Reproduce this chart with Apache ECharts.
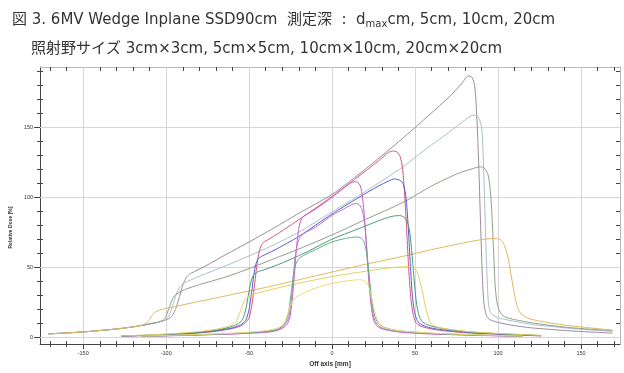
<!DOCTYPE html>
<html>
<head>
<meta charset="utf-8">
<script src="https://cdn.jsdelivr.net/npm/echarts@6/dist/echarts.min.js"></script>
<style>
  html, body { margin: 0; padding: 0; background: #fff; }
  #chart { width: 624px; height: 373px; }
</style>
</head>
<body>
<div id="chart"></div>
<script>
// wedge profiles, [off axis (mm), relative dose (%)]
// 20cm x 20cm field
var f20_dmax = [[-171, 2.3], [-150, 3.7], [-130, 5.8], [-120, 7.3], [-110, 9.4], [-102, 11.5], [-98, 13.5], [-96, 16], [-94, 21], [-92, 29], [-90, 37], [-88, 42.5], [-86, 45], [-83, 46.8], [-76, 51], [-64, 59], [-50, 68], [-35, 78], [-20, 88.5], [0, 102], [20, 120], [40, 139.5], [55, 155], [70, 171], [78, 181], [82, 186.5], [84, 186], [85.5, 182], [86.5, 172], [87.5, 150], [88.5, 118], [89.5, 80], [90.5, 45], [91.5, 24], [93, 15.5], [95, 12.5], [102, 9.9], [112, 7.8], [122, 6.4], [142, 4.6], [155, 3.7], [169, 2.8]];
var f20_d5 = [[-171, 2.3], [-150, 3.7], [-130, 5.8], [-120, 7.3], [-110, 9.4], [-102, 11.5], [-100, 12.8], [-98, 16], [-96, 23], [-94, 30.5], [-92, 35.5], [-90, 38], [-87, 39.8], [-80, 43.5], [-64, 51], [-50, 58], [-35, 66], [-20, 75], [0, 89.5], [20, 104], [42.8, 121.7], [55, 133], [70, 146], [80, 155], [85, 158.6], [87.5, 158], [89, 155], [90.3, 148], [91.3, 120], [92.3, 82], [93.3, 45], [94.3, 23], [95.5, 17.5], [97.2, 15.5], [101, 13.5], [106, 12.2], [114, 10.3], [122, 8.8], [132, 7.6], [142, 6.4], [155, 5.2], [169, 4.1]];
var f20_d10 = [[-171, 2.3], [-150, 3.7], [-130, 5.8], [-120, 7.3], [-110, 9.4], [-104, 11], [-101, 13], [-99, 18.5], [-97, 25], [-95, 29.5], [-92, 32], [-88, 34.3], [-80, 37.5], [-64, 43], [-50, 49], [-35, 56], [-20, 63], [0, 73], [20, 84], [42.8, 96.3], [60, 108], [75, 116.5], [85, 120.5], [89.3, 121.7], [92, 120.5], [94, 116], [95.3, 105], [96.3, 88], [97.3, 62], [98.2, 38], [99.2, 26], [100.5, 19.5], [102, 16.5], [104, 14.5], [110, 12.5], [122, 9.9], [132, 8.3], [142, 6.9], [155, 5.7], [169, 4.6]];
var f20_d20 = [[-171, 2.3], [-150, 3.7], [-130, 5.8], [-120, 7.3], [-114, 8.8], [-111, 11], [-109, 14.5], [-107, 17.5], [-104, 19.3], [-100, 20.5], [-90, 23], [-76, 26.5], [-64, 29.5], [-40, 35.5], [-20, 41], [0, 46.5], [20, 52], [40, 57], [60, 62.5], [80, 67.5], [92, 70], [99, 70.5], [102, 69], [104, 65], [106, 57], [107.5, 47], [109, 36.5], [110.5, 27], [112, 20.5], [114, 16.5], [118, 13.5], [125, 11.5], [132, 10], [142, 8.3], [152, 7], [169, 5]];

// 10cm x 10cm field
var f10_dmax = [[-127, 0.7], [-110, 1.2], [-95, 1.9], [-80, 3], [-70, 4.2], [-60, 6.2], [-55, 8], [-52, 10.5], [-50, 14], [-48.5, 22], [-47, 35], [-45.75, 47], [-44.5, 58], [-43, 64.5], [-41.5, 67.5], [-38, 70], [-30, 76], [-15, 88], [0, 100.5], [15, 114], [28, 126], [34, 132], [36.5, 133], [39, 132.3], [41, 129], [42.5, 120], [43.8, 100], [45, 75], [46.2, 48], [47.5, 27], [49, 15.5], [50.5, 10.5], [53, 8], [58, 6.3], [62.4, 5.3], [70, 4.2], [82, 3], [102, 1.9], [114, 1.4], [126, 0.8]];
var f10_d5 = [[-127, 0.7], [-110, 1.3], [-95, 2], [-80, 3.2], [-70, 4.5], [-60, 6.6], [-56, 8.3], [-53, 10.5], [-51.5, 13.5], [-50, 20], [-48.5, 32], [-47.2, 44], [-46, 52], [-44.5, 56], [-42, 58], [-35, 62], [-20, 72], [0, 88], [15, 99], [28, 108], [34, 111.5], [37.5, 113], [41, 112], [43, 109], [44.5, 100], [45.8, 80], [47, 55], [48.2, 32], [49.5, 19], [51, 12.5], [53, 9.5], [58, 7], [63, 5.8], [70, 4.7], [82, 3.4], [102, 2.1], [114, 1.6], [126, 1]];
var f10_d10 = [[-127, 0.8], [-110, 1.4], [-95, 2.2], [-80, 3.5], [-70, 5], [-62, 7], [-58, 8.7], [-55, 11], [-53.5, 14], [-52, 20], [-50.5, 30], [-49, 39], [-47.5, 44], [-45, 46.5], [-40, 48.5], [-30, 53], [-15, 61], [0, 70], [15, 77], [30, 84], [37, 86.5], [41, 86.8], [44, 85], [46, 80], [47.3, 70], [48.5, 54], [49.8, 36], [51, 23], [52.5, 15], [54, 11.5], [57, 9], [62, 7.2], [70, 5.5], [82, 3.8], [102, 2.3], [114, 1.7], [126, 1.1]];
var f10_d20 = [[-127, 0.9], [-110, 1.6], [-95, 2.6], [-80, 4], [-70, 5.6], [-63, 7.5], [-60, 9], [-58, 11], [-56.5, 14.5], [-55, 19.5], [-53.5, 24.5], [-52, 27.5], [-49, 30], [-45, 31.5], [-35, 34.5], [-20, 38.5], [0, 43.3], [20, 47], [35, 49.5], [44.7, 50.3], [48, 50], [50.5, 48], [52, 44], [53.5, 37], [54.6, 31.8], [56, 23], [57.6, 15.7], [59, 11], [60.6, 8.8], [63, 7.3], [70, 5.7], [82, 4], [102, 2.5], [114, 1.9], [126, 1.2]];

// 5cm x 5cm field
var f5_dmax = [[-115, 0.5], [-100, 0.9], [-80, 1.5], [-60, 2.2], [-45, 3], [-38, 3.6], [-33, 4.8], [-29, 7], [-27, 9.5], [-25.5, 14], [-24.2, 25], [-22.9, 42], [-21.6, 62], [-20.3, 76], [-19, 83], [-17, 86.5], [-12, 90], [-5, 95.5], [0, 100], [6, 105.5], [11, 110], [13.5, 111], [15.5, 110.5], [17, 108], [18.3, 100], [19.5, 85], [20.7, 65], [22, 42], [23.3, 25], [24.6, 14], [26, 9.5], [28, 7], [32, 5.3], [38, 4], [45, 3.1], [60, 2.2], [80, 1.5], [100, 0.9], [115, 0.6]];
var f5_d5 = [[-115, 0.6], [-100, 1], [-80, 1.6], [-60, 2.4], [-45, 3.3], [-38, 4], [-33, 5.2], [-30, 7], [-27.5, 10.5], [-26, 15], [-24.8, 25], [-23.6, 40], [-22.4, 56], [-21, 66], [-19.5, 71], [-17, 74], [-10, 78.5], [0, 87], [7, 91.5], [12, 94.8], [14.5, 95.4], [16.5, 94.5], [18, 91], [19.3, 84], [20.5, 70], [21.7, 50], [23, 32], [24.3, 19], [25.7, 12], [27.5, 8.5], [30, 6.5], [35, 5], [42, 3.8], [60, 2.4], [80, 1.6], [100, 1], [115, 0.6]];
var f5_d10 = [[-115, 0.6], [-100, 1.1], [-80, 1.7], [-60, 2.6], [-45, 3.6], [-38, 4.4], [-33, 5.7], [-30, 7.7], [-28.5, 10], [-27, 14], [-25.8, 21], [-24.6, 32], [-23.3, 44], [-22, 51.5], [-20.5, 55.5], [-17, 58.5], [-10, 62.5], [0, 68], [8, 70.5], [14, 71.5], [17, 71], [19, 68.5], [20.5, 62], [21.8, 50], [23, 36], [24.3, 23], [25.7, 15], [27.5, 10.5], [30, 7.7], [35, 5.7], [42, 4.3], [60, 2.7], [80, 1.8], [100, 1.1], [115, 0.7]];
var f5_d20 = [[-115, 0.7], [-100, 1.2], [-80, 1.9], [-60, 2.8], [-45, 4], [-38, 5], [-33, 6.5], [-30, 8.5], [-28.3, 11.5], [-26.8, 16.5], [-25.3, 22], [-23.8, 26], [-22, 28.3], [-18, 31], [-10, 35], [1, 38.7], [10, 40.3], [16, 41], [19, 40.5], [21, 38.7], [22.5, 34.5], [24, 27], [25.5, 19], [27, 13], [28.5, 9.5], [31, 7], [36, 5.3], [42, 4.3], [60, 2.9], [80, 1.9], [100, 1.2], [115, 0.7]];

var xLabels = [-150, -100, -50, 0, 50, 100, 150];
var xMinor = [-170, -160, -150, -140, -130, -120, -110, -100, -90, -80, -70, -60, -50, -40, -30, -20, -10, 0, 10, 20, 30, 40, 50, 60, 70, 80, 90, 100, 110, 120, 130, 140, 150, 160, 170];
var yLabels = [0, 50, 100, 150];
var yMinor = [0, 10, 20, 30, 40, 50, 60, 70, 80, 90, 100, 110, 120, 130, 140, 150, 160, 170, 180, 190];

var X_MIN = -176, X_MAX = 173.5, Y_MIN = -5, Y_MAX = 193;

var curves = [
  { name: '20cm dmax', data: f20_dmax, color: '#a08a9a' },
  { name: '20cm 5cm', data: f20_d5, color: '#a6c2cc' },
  { name: '20cm 10cm', data: f20_d10, color: '#8f9f88' },
  { name: '20cm 20cm', data: f20_d20, color: '#e0b860' },
  { name: '10cm dmax', data: f10_dmax, color: '#d4587c' },
  { name: '10cm 5cm', data: f10_d5, color: '#5a5ad8' },
  { name: '10cm 10cm', data: f10_d10, color: '#4a9a78' },
  { name: '10cm 20cm', data: f10_d20, color: '#e4d060' },
  { name: '5cm dmax', data: f5_dmax, color: '#cc5cc4' },
  { name: '5cm 5cm', data: f5_d5, color: '#b878c8' },
  { name: '5cm 10cm', data: f5_d10, color: '#5cb088' },
  { name: '5cm 20cm', data: f5_d20, color: '#ecdc70' }
];

// extra axes only for tick marks (ticks cross the frame, top/right inside)
function tickAxis(kind, position, ticks, len, inside, lineColor) {
  return {
    type: 'value', position: position,
    min: kind === 'x' ? X_MIN : Y_MIN, max: kind === 'x' ? X_MAX : Y_MAX,
    axisLine: { show: !!lineColor, onZero: false, lineStyle: { color: lineColor || '#444', width: 1 } },
    axisTick: { show: true, customValues: ticks, length: len, inside: inside, lineStyle: { color: '#444', width: 1 } },
    axisLabel: { show: false },
    splitLine: { show: false }
  };
}

var xMain = tickAxis('x', 'bottom', xMinor, 3, false, '#444');
xMain.axisLabel = { show: true, customValues: xLabels, fontSize: 5.5, color: '#333', margin: 6, fontFamily: 'Liberation Sans' };
xMain.name = 'Off axis [mm]';
xMain.nameLocation = 'middle';
xMain.nameGap = 14;
xMain.nameTextStyle = { fontSize: 6.5, fontWeight: 'bold', color: '#333', fontFamily: 'Liberation Sans' };

var yMain = tickAxis('y', 'left', yMinor, 3, false, '#444');
yMain.axisLabel = { show: true, customValues: yLabels, fontSize: 5.5, color: '#333', margin: 7, fontFamily: 'Liberation Sans' };
yMain.name = 'Relative Dose [%]';
yMain.nameLocation = 'middle';
yMain.nameGap = 15;
yMain.nameTextStyle = { fontSize: 5, fontWeight: 'bold', color: '#333', fontFamily: 'Liberation Sans', padding: [0, 44, 0, 0] };

var series = curves.map(function (c) {
  return {
    type: 'line', name: c.name, data: c.data,
    xAxisIndex: 0, yAxisIndex: 0,
    symbol: 'none', smooth: 0.25,
    lineStyle: { color: c.color, width: 1 },
    itemStyle: { color: c.color },
    silent: true
  };
});

// grid lines at the labelled values
series[0].markLine = {
  silent: true, symbol: 'none', z: 1,
  label: { show: false },
  lineStyle: { color: '#d6d6d6', width: 1, type: 'solid' },
  data: xLabels.map(function (v) { return { xAxis: v }; })
    .concat(yLabels.map(function (v) { return { yAxis: v }; }))
};

var chart = echarts.init(document.getElementById('chart'));
chart.setOption({
  animation: false,
  backgroundColor: '#fff',
  title: [
    {
      left: 7, top: 6,
      text: '図 3. 6MV Wedge Inplane SSD90cm  測定深  :  d{sub|max}cm, 5cm, 10cm, 20cm',
      textStyle: {
        fontSize: 15, fontWeight: 'normal', color: '#333', lineHeight: 18,
        fontFamily: '"DejaVu Sans", "Noto Sans CJK JP"',
        rich: { sub: { fontSize: 10, lineHeight: 10, verticalAlign: 'bottom', color: '#333', fontFamily: '"DejaVu Sans"' } }
      }
    },
    {
      left: 26, top: 35,
      text: '照射野サイズ 3cm×3cm, 5cm×5cm, 10cm×10cm, 20cm×20cm',
      textStyle: {
        fontSize: 15, fontWeight: 'normal', color: '#333', lineHeight: 18,
        fontFamily: '"DejaVu Sans", "Noto Sans CJK JP"'
      }
    }
  ],
  grid: { left: 32, right: 4, top: 67, bottom: 20, containLabel: false },
  xAxis: [
    xMain,
    tickAxis('x', 'bottom', xMinor, 3, true),
    tickAxis('x', 'bottom', xLabels, 5, false),
    tickAxis('x', 'bottom', xLabels, 4, true),
    tickAxis('x', 'top', xMinor, 4, true, '#b8b8b8')
  ],
  yAxis: [
    yMain,
    tickAxis('y', 'left', yMinor, 3, true),
    tickAxis('y', 'left', yLabels, 6, false),
    tickAxis('y', 'left', yLabels, 5, true),
    tickAxis('y', 'right', yMinor, 4, true, '#b8b8b8')
  ],
  series: series
});
</script>
</body>
</html>
